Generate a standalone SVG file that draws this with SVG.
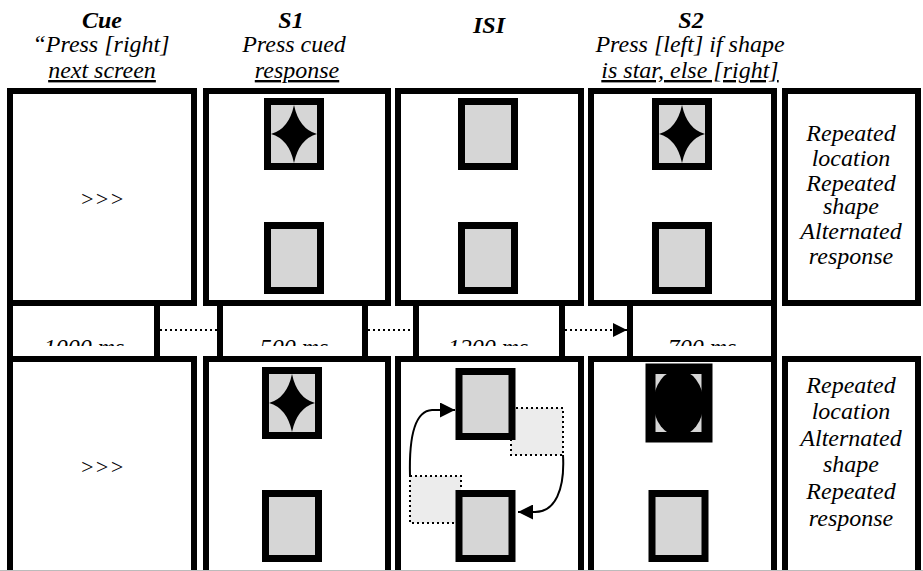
<svg xmlns="http://www.w3.org/2000/svg" width="923" height="571" viewBox="0 0 923 571">
<style>
.panel{fill:#fff;stroke:#000;stroke-width:6}
.ghost{fill:#ececec;stroke:#000;stroke-width:2;stroke-dasharray:2 3}
.dot{stroke-dasharray:2 3}
.lbl{font-family:'Liberation Serif','Times New Roman',serif;font-size:24px;font-style:italic;text-anchor:middle;fill:#000}
.hd{font-weight:bold}
.ul{text-decoration:underline}
.arr{font-size:22px}
</style>
<defs>
<marker id="ah" viewBox="0 0 10 10" refX="10" refY="5" markerWidth="14" markerHeight="14" markerUnits="userSpaceOnUse" orient="auto"><path d="M0,0 L10,5 L0,10 Z" fill="#000"/></marker>
<marker id="ah2" viewBox="0 0 10 10" refX="10" refY="5" markerWidth="15" markerHeight="15" markerUnits="userSpaceOnUse" orient="auto"><path d="M0,0 L10,5 L0,10 Z" fill="#000"/></marker>
<path id="star" d="M0,-29 Q5,-5 23,0 Q5,5 0,29 Q-5,5 -23,0 Q-5,-5 0,-29 Z" fill="#000"/>
<rect id="box" x="0" y="0" width="53" height="65" fill="#d6d6d6" stroke="#000" stroke-width="7"/>
<clipPath id="c1"><rect x="0" y="306" width="923" height="40"/></clipPath>
</defs>

<g id="headers">
<text class="lbl hd" x="102" y="28">Cue</text>
<text class="lbl" x="101" y="52">“Press [right]</text>
<text class="lbl ul" x="102" y="78">next screen</text>
<text class="lbl hd" x="291" y="28">S1</text>
<text class="lbl" x="294" y="52">Press cued</text>
<text class="lbl ul" x="297" y="78">response</text>
<text class="lbl hd" x="489" y="33">ISI</text>
<text class="lbl hd" x="691" y="28">S2</text>
<text class="lbl" x="690" y="52">Press [left] if shape</text>
<text class="lbl ul" x="690" y="78">is star, else [right]</text>
</g>

<g id="row1">
<g id="cue1"><rect class="panel" x="10" y="91" width="184" height="212"/><text class="lbl arr" x="102" y="206">&gt;&gt;&gt;</text></g>
<g id="s1a"><rect class="panel" x="206" y="91" width="182" height="212"/><use href="#box" x="267.5" y="101.5"/><use href="#star" x="294" y="134"/><use href="#box" x="267.5" y="225.5"/></g>
<g id="isi1"><rect class="panel" x="398" y="91" width="183" height="212"/><use href="#box" x="461.5" y="101.5"/><use href="#box" x="461.5" y="225.5"/></g>
<g id="s2a"><rect class="panel" x="591" y="91" width="183" height="212"/><use href="#box" x="655.5" y="101.5"/><use href="#star" x="682" y="134"/><use href="#box" x="655.5" y="225.5"/></g>
<g id="lab1"><rect class="panel" x="785" y="91" width="133" height="212"/>
<text class="lbl" x="851" y="141">Repeated</text><text class="lbl" x="851" y="166">location</text><text class="lbl" x="851" y="191">Repeated</text><text class="lbl" x="851" y="214">shape</text><text class="lbl" x="851" y="239">Alternated</text><text class="lbl" x="851" y="264">response</text></g>
</g>

<g id="timing">
<g id="t1"><rect class="panel" x="10" y="303" width="147" height="56"/><text class="lbl" x="84" y="355" clip-path="url(#c1)">1000 ms</text></g>
<g id="t2"><rect class="panel" x="220" y="303" width="145" height="56"/><text class="lbl" x="294" y="355" clip-path="url(#c1)">500 ms</text></g>
<g id="t3"><rect class="panel" x="416" y="303" width="146" height="56"/><text class="lbl" x="488" y="355" clip-path="url(#c1)">1200 ms</text></g>
<g id="t4"><rect class="panel" x="630" y="303" width="144" height="56"/><text class="lbl" x="702" y="355" clip-path="url(#c1)">700 ms</text></g>
</g>

<g id="row2">
<g id="cue2"><rect class="panel" x="10" y="359" width="184" height="216"/><text class="lbl arr" x="102" y="474">&gt;&gt;&gt;</text></g>
<g id="s1b"><rect class="panel" x="206" y="359" width="182" height="216"/><use href="#box" x="265.5" y="370.5"/><use href="#star" x="292" y="403"/><use href="#box" x="265.5" y="493.5"/></g>
<g id="isi2"><rect class="panel" x="398" y="359" width="183" height="216"/>
<rect class="ghost" x="511" y="408" width="52" height="47"/>
<rect class="ghost" x="410" y="476" width="51" height="47"/>
<use href="#box" x="459" y="371.5"/><use href="#box" x="459" y="493.5"/></g>
<g id="s2b"><rect class="panel" x="591" y="359" width="183" height="216"/><use href="#box" x="652" y="370.5"/><ellipse cx="678.5" cy="403" rx="25" ry="33" fill="#000"/><rect x="649" y="367" width="60" height="72" fill="none" stroke="#000" stroke-width="7"/><use href="#box" x="652" y="493.5"/></g>
<g id="lab2"><rect class="panel" x="785" y="359" width="133" height="216"/>
<text class="lbl" x="851" y="393">Repeated</text><text class="lbl" x="851" y="419">location</text><text class="lbl" x="851" y="446">Alternated</text><text class="lbl" x="851" y="472">shape</text><text class="lbl" x="851" y="499">Repeated</text><text class="lbl" x="851" y="526">response</text></g>
<line x1="0" y1="570.5" x2="923" y2="570.5" stroke="#bbb" stroke-width="1"/>
</g>

<g id="connectors" fill="none" stroke="#000" stroke-width="2">
<line class="dot" x1="160" y1="330" x2="217" y2="330"/>
<line class="dot" x1="368" y1="330" x2="413" y2="330"/>
<line class="dot" x1="565" y1="330" x2="627" y2="330" marker-end="url(#ah)"/>
<path d="M410,476 C409,440 414,411 432,410 L455,410" marker-end="url(#ah2)"/>
<path d="M563,455 C565,490 555,512 535,512 L518,512" marker-end="url(#ah2)"/>
</g>
</svg>
